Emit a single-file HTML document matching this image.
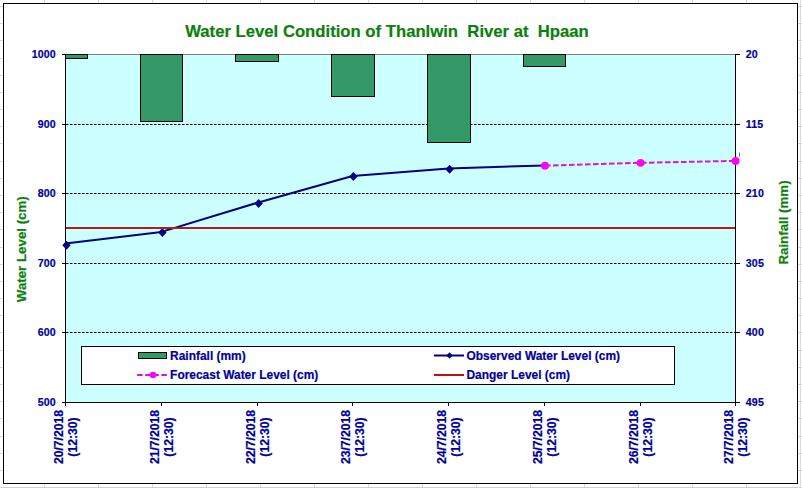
<!DOCTYPE html><html><head><meta charset="utf-8"><title>Water Level Condition of Thanlwin River at Hpaan</title>
<style>html,body{margin:0;padding:0;background:#fff;}svg{display:block;}text{font-family:"Liberation Sans", sans-serif;font-weight:bold;}text.b{stroke:#00009c;stroke-width:0.2px;}text.g{stroke:#0c800c;stroke-width:0.2px;}</style></head><body>
<svg width="802" height="488" viewBox="0 0 802 488">
<rect x="0" y="0" width="802" height="488" fill="#fff"/>
<line x1="44.5" y1="0" x2="44.5" y2="3" stroke="#d8d8d8" stroke-width="1"/>
<line x1="44.5" y1="484" x2="44.5" y2="488" stroke="#d8d8d8" stroke-width="1"/>
<line x1="98.5" y1="0" x2="98.5" y2="3" stroke="#d8d8d8" stroke-width="1"/>
<line x1="98.5" y1="484" x2="98.5" y2="488" stroke="#d8d8d8" stroke-width="1"/>
<line x1="152.5" y1="0" x2="152.5" y2="3" stroke="#d8d8d8" stroke-width="1"/>
<line x1="152.5" y1="484" x2="152.5" y2="488" stroke="#d8d8d8" stroke-width="1"/>
<line x1="206.5" y1="0" x2="206.5" y2="3" stroke="#d8d8d8" stroke-width="1"/>
<line x1="206.5" y1="484" x2="206.5" y2="488" stroke="#d8d8d8" stroke-width="1"/>
<line x1="260.5" y1="0" x2="260.5" y2="3" stroke="#d8d8d8" stroke-width="1"/>
<line x1="260.5" y1="484" x2="260.5" y2="488" stroke="#d8d8d8" stroke-width="1"/>
<line x1="314.5" y1="0" x2="314.5" y2="3" stroke="#d8d8d8" stroke-width="1"/>
<line x1="314.5" y1="484" x2="314.5" y2="488" stroke="#d8d8d8" stroke-width="1"/>
<line x1="368.5" y1="0" x2="368.5" y2="3" stroke="#d8d8d8" stroke-width="1"/>
<line x1="368.5" y1="484" x2="368.5" y2="488" stroke="#d8d8d8" stroke-width="1"/>
<line x1="422.5" y1="0" x2="422.5" y2="3" stroke="#d8d8d8" stroke-width="1"/>
<line x1="422.5" y1="484" x2="422.5" y2="488" stroke="#d8d8d8" stroke-width="1"/>
<line x1="476.5" y1="0" x2="476.5" y2="3" stroke="#d8d8d8" stroke-width="1"/>
<line x1="476.5" y1="484" x2="476.5" y2="488" stroke="#d8d8d8" stroke-width="1"/>
<line x1="530.5" y1="0" x2="530.5" y2="3" stroke="#d8d8d8" stroke-width="1"/>
<line x1="530.5" y1="484" x2="530.5" y2="488" stroke="#d8d8d8" stroke-width="1"/>
<line x1="584.5" y1="0" x2="584.5" y2="3" stroke="#d8d8d8" stroke-width="1"/>
<line x1="584.5" y1="484" x2="584.5" y2="488" stroke="#d8d8d8" stroke-width="1"/>
<line x1="638.5" y1="0" x2="638.5" y2="3" stroke="#d8d8d8" stroke-width="1"/>
<line x1="638.5" y1="484" x2="638.5" y2="488" stroke="#d8d8d8" stroke-width="1"/>
<line x1="692.5" y1="0" x2="692.5" y2="3" stroke="#d8d8d8" stroke-width="1"/>
<line x1="692.5" y1="484" x2="692.5" y2="488" stroke="#d8d8d8" stroke-width="1"/>
<line x1="746.5" y1="0" x2="746.5" y2="3" stroke="#d8d8d8" stroke-width="1"/>
<line x1="746.5" y1="484" x2="746.5" y2="488" stroke="#d8d8d8" stroke-width="1"/>
<line x1="0" y1="487.5" x2="802" y2="487.5" stroke="#d0d0d0" stroke-width="1"/>
<line x1="800.5" y1="0" x2="800.5" y2="488" stroke="#d8d8d8" stroke-width="1"/>
<line x1="0" y1="6.5" x2="3" y2="6.5" stroke="#d8d8d8" stroke-width="1"/>
<line x1="798" y1="6.5" x2="802" y2="6.5" stroke="#d8d8d8" stroke-width="1"/>
<line x1="0" y1="23.5" x2="3" y2="23.5" stroke="#d8d8d8" stroke-width="1"/>
<line x1="798" y1="23.5" x2="802" y2="23.5" stroke="#d8d8d8" stroke-width="1"/>
<line x1="0" y1="40.5" x2="3" y2="40.5" stroke="#d8d8d8" stroke-width="1"/>
<line x1="798" y1="40.5" x2="802" y2="40.5" stroke="#d8d8d8" stroke-width="1"/>
<line x1="0" y1="58.5" x2="3" y2="58.5" stroke="#d8d8d8" stroke-width="1"/>
<line x1="798" y1="58.5" x2="802" y2="58.5" stroke="#d8d8d8" stroke-width="1"/>
<line x1="0" y1="75.5" x2="3" y2="75.5" stroke="#d8d8d8" stroke-width="1"/>
<line x1="798" y1="75.5" x2="802" y2="75.5" stroke="#d8d8d8" stroke-width="1"/>
<line x1="0" y1="92.5" x2="3" y2="92.5" stroke="#d8d8d8" stroke-width="1"/>
<line x1="798" y1="92.5" x2="802" y2="92.5" stroke="#d8d8d8" stroke-width="1"/>
<line x1="0" y1="109.5" x2="3" y2="109.5" stroke="#d8d8d8" stroke-width="1"/>
<line x1="798" y1="109.5" x2="802" y2="109.5" stroke="#d8d8d8" stroke-width="1"/>
<line x1="0" y1="126.5" x2="3" y2="126.5" stroke="#d8d8d8" stroke-width="1"/>
<line x1="798" y1="126.5" x2="802" y2="126.5" stroke="#d8d8d8" stroke-width="1"/>
<line x1="0" y1="143.5" x2="3" y2="143.5" stroke="#d8d8d8" stroke-width="1"/>
<line x1="798" y1="143.5" x2="802" y2="143.5" stroke="#d8d8d8" stroke-width="1"/>
<line x1="0" y1="161.5" x2="3" y2="161.5" stroke="#d8d8d8" stroke-width="1"/>
<line x1="798" y1="161.5" x2="802" y2="161.5" stroke="#d8d8d8" stroke-width="1"/>
<line x1="0" y1="178.5" x2="3" y2="178.5" stroke="#d8d8d8" stroke-width="1"/>
<line x1="798" y1="178.5" x2="802" y2="178.5" stroke="#d8d8d8" stroke-width="1"/>
<line x1="0" y1="195.5" x2="3" y2="195.5" stroke="#d8d8d8" stroke-width="1"/>
<line x1="798" y1="195.5" x2="802" y2="195.5" stroke="#d8d8d8" stroke-width="1"/>
<line x1="0" y1="212.5" x2="3" y2="212.5" stroke="#d8d8d8" stroke-width="1"/>
<line x1="798" y1="212.5" x2="802" y2="212.5" stroke="#d8d8d8" stroke-width="1"/>
<line x1="0" y1="229.5" x2="3" y2="229.5" stroke="#d8d8d8" stroke-width="1"/>
<line x1="798" y1="229.5" x2="802" y2="229.5" stroke="#d8d8d8" stroke-width="1"/>
<line x1="0" y1="247.5" x2="3" y2="247.5" stroke="#d8d8d8" stroke-width="1"/>
<line x1="798" y1="247.5" x2="802" y2="247.5" stroke="#d8d8d8" stroke-width="1"/>
<line x1="0" y1="264.5" x2="3" y2="264.5" stroke="#d8d8d8" stroke-width="1"/>
<line x1="798" y1="264.5" x2="802" y2="264.5" stroke="#d8d8d8" stroke-width="1"/>
<line x1="0" y1="281.5" x2="3" y2="281.5" stroke="#d8d8d8" stroke-width="1"/>
<line x1="798" y1="281.5" x2="802" y2="281.5" stroke="#d8d8d8" stroke-width="1"/>
<line x1="0" y1="298.5" x2="3" y2="298.5" stroke="#d8d8d8" stroke-width="1"/>
<line x1="798" y1="298.5" x2="802" y2="298.5" stroke="#d8d8d8" stroke-width="1"/>
<line x1="0" y1="315.5" x2="3" y2="315.5" stroke="#d8d8d8" stroke-width="1"/>
<line x1="798" y1="315.5" x2="802" y2="315.5" stroke="#d8d8d8" stroke-width="1"/>
<line x1="0" y1="332.5" x2="3" y2="332.5" stroke="#d8d8d8" stroke-width="1"/>
<line x1="798" y1="332.5" x2="802" y2="332.5" stroke="#d8d8d8" stroke-width="1"/>
<line x1="0" y1="350.5" x2="3" y2="350.5" stroke="#d8d8d8" stroke-width="1"/>
<line x1="798" y1="350.5" x2="802" y2="350.5" stroke="#d8d8d8" stroke-width="1"/>
<line x1="0" y1="367.5" x2="3" y2="367.5" stroke="#d8d8d8" stroke-width="1"/>
<line x1="798" y1="367.5" x2="802" y2="367.5" stroke="#d8d8d8" stroke-width="1"/>
<line x1="0" y1="384.5" x2="3" y2="384.5" stroke="#d8d8d8" stroke-width="1"/>
<line x1="798" y1="384.5" x2="802" y2="384.5" stroke="#d8d8d8" stroke-width="1"/>
<line x1="0" y1="401.5" x2="3" y2="401.5" stroke="#d8d8d8" stroke-width="1"/>
<line x1="798" y1="401.5" x2="802" y2="401.5" stroke="#d8d8d8" stroke-width="1"/>
<line x1="0" y1="418.5" x2="3" y2="418.5" stroke="#d8d8d8" stroke-width="1"/>
<line x1="798" y1="418.5" x2="802" y2="418.5" stroke="#d8d8d8" stroke-width="1"/>
<line x1="0" y1="436.5" x2="3" y2="436.5" stroke="#d8d8d8" stroke-width="1"/>
<line x1="798" y1="436.5" x2="802" y2="436.5" stroke="#d8d8d8" stroke-width="1"/>
<line x1="0" y1="453.5" x2="3" y2="453.5" stroke="#d8d8d8" stroke-width="1"/>
<line x1="798" y1="453.5" x2="802" y2="453.5" stroke="#d8d8d8" stroke-width="1"/>
<line x1="0" y1="470.5" x2="3" y2="470.5" stroke="#d8d8d8" stroke-width="1"/>
<line x1="798" y1="470.5" x2="802" y2="470.5" stroke="#d8d8d8" stroke-width="1"/>
<line x1="0" y1="487.5" x2="3" y2="487.5" stroke="#d8d8d8" stroke-width="1"/>
<line x1="798" y1="487.5" x2="802" y2="487.5" stroke="#d8d8d8" stroke-width="1"/>
<rect x="3.5" y="3.5" width="794" height="480" fill="#fff" stroke="#000" stroke-width="1"/>
<rect x="65" y="54" width="670" height="348" fill="#ccffff"/>
<line x1="65" y1="54.5" x2="735" y2="54.5" stroke="#808080" stroke-width="1"/>
<line x1="66" y1="124.5" x2="735" y2="124.5" stroke="#000" stroke-width="1" stroke-dasharray="2.5 1.5"/>
<line x1="66" y1="193.5" x2="735" y2="193.5" stroke="#000" stroke-width="1" stroke-dasharray="2.5 1.5"/>
<line x1="66" y1="263.5" x2="735" y2="263.5" stroke="#000" stroke-width="1" stroke-dasharray="2.5 1.5"/>
<line x1="66" y1="332.5" x2="735" y2="332.5" stroke="#000" stroke-width="1" stroke-dasharray="2.5 1.5"/>
<rect x="65.5" y="54.5" width="22" height="4" fill="#339966" stroke="#000" stroke-width="1"/>
<rect x="140.5" y="54.5" width="42" height="67" fill="#339966" stroke="#000" stroke-width="1"/>
<rect x="235.5" y="54.5" width="43" height="7" fill="#339966" stroke="#000" stroke-width="1"/>
<rect x="331.5" y="54.5" width="43" height="42" fill="#339966" stroke="#000" stroke-width="1"/>
<rect x="427.5" y="54.5" width="43" height="88" fill="#339966" stroke="#000" stroke-width="1"/>
<rect x="523.5" y="54.5" width="42" height="12" fill="#339966" stroke="#000" stroke-width="1"/>
<line x1="65.5" y1="54" x2="65.5" y2="403" stroke="#000" stroke-width="1"/>
<line x1="735.5" y1="54" x2="735.5" y2="406" stroke="#000" stroke-width="1"/>
<line x1="65" y1="402.5" x2="736" y2="402.5" stroke="#000" stroke-width="1"/>
<line x1="62" y1="54.5" x2="65" y2="54.5" stroke="#000" stroke-width="1"/>
<line x1="736" y1="54.5" x2="740" y2="54.5" stroke="#000" stroke-width="1"/>
<line x1="62" y1="124.5" x2="65" y2="124.5" stroke="#000" stroke-width="1"/>
<line x1="736" y1="124.5" x2="740" y2="124.5" stroke="#000" stroke-width="1"/>
<line x1="62" y1="193.5" x2="65" y2="193.5" stroke="#000" stroke-width="1"/>
<line x1="736" y1="193.5" x2="740" y2="193.5" stroke="#000" stroke-width="1"/>
<line x1="62" y1="263.5" x2="65" y2="263.5" stroke="#000" stroke-width="1"/>
<line x1="736" y1="263.5" x2="740" y2="263.5" stroke="#000" stroke-width="1"/>
<line x1="62" y1="332.5" x2="65" y2="332.5" stroke="#000" stroke-width="1"/>
<line x1="736" y1="332.5" x2="740" y2="332.5" stroke="#000" stroke-width="1"/>
<line x1="62" y1="402.5" x2="65" y2="402.5" stroke="#000" stroke-width="1"/>
<line x1="736" y1="402.5" x2="740" y2="402.5" stroke="#000" stroke-width="1"/>
<line x1="65.5" y1="403" x2="65.5" y2="406" stroke="#000" stroke-width="1"/>
<line x1="161.5" y1="403" x2="161.5" y2="406" stroke="#000" stroke-width="1"/>
<line x1="257.5" y1="403" x2="257.5" y2="406" stroke="#000" stroke-width="1"/>
<line x1="352.5" y1="403" x2="352.5" y2="406" stroke="#000" stroke-width="1"/>
<line x1="448.5" y1="403" x2="448.5" y2="406" stroke="#000" stroke-width="1"/>
<line x1="544.5" y1="403" x2="544.5" y2="406" stroke="#000" stroke-width="1"/>
<line x1="640.5" y1="403" x2="640.5" y2="406" stroke="#000" stroke-width="1"/>
<line x1="735.5" y1="403" x2="735.5" y2="406" stroke="#000" stroke-width="1"/>
<polyline points="65.5,243.4 161.5,231.9 257.5,202.7 352.5,176.0 448.5,168.4 544.5,165.5" fill="none" stroke="#000080" stroke-width="2" stroke-linejoin="round"/>
<path d="M66.5 240.8L70.7 245.3L66.5 249.8L62.3 245.3Z" fill="#000080"/>
<path d="M162.4 228.0L166.6 232.5L162.4 237.0L158.2 232.5Z" fill="#000080"/>
<path d="M258.6 198.9L262.8 203.4L258.6 207.9L254.4 203.4Z" fill="#000080"/>
<path d="M353.4 171.9L357.6 176.4L353.4 180.9L349.2 176.4Z" fill="#000080"/>
<path d="M449.6 164.8L453.8 169.3L449.6 173.8L445.4 169.3Z" fill="#000080"/>
<line x1="66" y1="228" x2="735" y2="228" stroke="#b41c1c" stroke-width="2"/>
<polyline points="545.0,165.7 640.6,162.8 735.6,160.9" fill="none" stroke="#e010e0" stroke-width="2" stroke-dasharray="5.6 2.4"/>
<circle cx="545.0" cy="165.7" r="3.9" fill="#ff00ff"/>
<circle cx="640.6" cy="162.8" r="3.9" fill="#ff00ff"/>
<circle cx="735.6" cy="160.9" r="3.9" fill="#ff00ff"/>
<line x1="739.5" y1="152.5" x2="739.5" y2="156.5" stroke="#707080" stroke-width="1"/>
<rect x="81.5" y="346.5" width="593" height="38" fill="#fff" stroke="#000" stroke-width="1"/>
<rect x="138.5" y="352.5" width="28" height="6" fill="#339966" stroke="#000" stroke-width="1"/>
<line x1="137.1" y1="375" x2="167" y2="375" stroke="#e010e0" stroke-width="2" stroke-dasharray="5.5 2.6"/>
<circle cx="153" cy="375" r="3.3" fill="#ff00ff"/>
<line x1="434" y1="355.5" x2="464" y2="355.5" stroke="#000080" stroke-width="2"/>
<path d="M449.5 352.2L452.5 355.5L449.5 358.8L446.5 355.5Z" fill="#000080"/>
<line x1="434" y1="375" x2="464" y2="375" stroke="#c01010" stroke-width="2"/>
<text x="170.1" y="360" font-size="11.95" fill="#00009c" class="b">Rainfall (mm)</text>
<text x="170.1" y="378.8" font-size="11.95" fill="#00009c" class="b">Forecast Water Level (cm)</text>
<text x="466.5" y="360" font-size="11.95" fill="#00009c" class="b">Observed Water Level (cm)</text>
<text x="466.5" y="378.8" font-size="11.95" fill="#00009c" class="b">Danger Level (cm)</text>
<text x="185.2" y="36.7" font-size="16.7" fill="#0c800c" class="g" xml:space="preserve">Water Level Condition of Thanlwin  River at  Hpaan</text>
<text x="55.8" y="58.3" font-size="10.6" fill="#00009c" class="b" text-anchor="end" letter-spacing="0.15">1000</text>
<text x="55.8" y="128.3" font-size="10.6" fill="#00009c" class="b" text-anchor="end" letter-spacing="0.15">900</text>
<text x="55.8" y="197.3" font-size="10.6" fill="#00009c" class="b" text-anchor="end" letter-spacing="0.15">800</text>
<text x="55.8" y="267.3" font-size="10.6" fill="#00009c" class="b" text-anchor="end" letter-spacing="0.15">700</text>
<text x="55.8" y="336.3" font-size="10.6" fill="#00009c" class="b" text-anchor="end" letter-spacing="0.15">600</text>
<text x="55.8" y="406.3" font-size="10.6" fill="#00009c" class="b" text-anchor="end" letter-spacing="0.15">500</text>
<text x="745.8" y="58.3" font-size="10.6" fill="#00009c" class="b" letter-spacing="0.15">20</text>
<text x="745.8" y="128.3" font-size="10.6" fill="#00009c" class="b" letter-spacing="0.15">115</text>
<text x="745.8" y="197.3" font-size="10.6" fill="#00009c" class="b" letter-spacing="0.15">210</text>
<text x="745.8" y="267.3" font-size="10.6" fill="#00009c" class="b" letter-spacing="0.15">305</text>
<text x="745.8" y="336.3" font-size="10.6" fill="#00009c" class="b" letter-spacing="0.15">400</text>
<text x="745.8" y="406.3" font-size="10.6" fill="#00009c" class="b" letter-spacing="0.15">495</text>
<text transform="translate(26.2,249.2) rotate(-90)" font-size="13.3" fill="#0c800c" class="g" text-anchor="middle">Water Level (cm)</text>
<text transform="translate(788,222.5) rotate(-90)" font-size="13.3" fill="#0c800c" class="g" text-anchor="middle">Rainfall (mm)</text>
<text transform="translate(63.0,437) rotate(-90)" font-size="12.2" fill="#00009c" class="b" text-anchor="middle">20/7/2018</text>
<text transform="translate(77.0,437) rotate(-90)" font-size="12.2" fill="#00009c" class="b" text-anchor="middle">(12:30)</text>
<text transform="translate(159.0,437) rotate(-90)" font-size="12.2" fill="#00009c" class="b" text-anchor="middle">21/7/2018</text>
<text transform="translate(173.0,437) rotate(-90)" font-size="12.2" fill="#00009c" class="b" text-anchor="middle">(12:30)</text>
<text transform="translate(255.0,437) rotate(-90)" font-size="12.2" fill="#00009c" class="b" text-anchor="middle">22/7/2018</text>
<text transform="translate(269.0,437) rotate(-90)" font-size="12.2" fill="#00009c" class="b" text-anchor="middle">(12:30)</text>
<text transform="translate(350.0,437) rotate(-90)" font-size="12.2" fill="#00009c" class="b" text-anchor="middle">23/7/2018</text>
<text transform="translate(364.0,437) rotate(-90)" font-size="12.2" fill="#00009c" class="b" text-anchor="middle">(12:30)</text>
<text transform="translate(446.0,437) rotate(-90)" font-size="12.2" fill="#00009c" class="b" text-anchor="middle">24/7/2018</text>
<text transform="translate(460.0,437) rotate(-90)" font-size="12.2" fill="#00009c" class="b" text-anchor="middle">(12:30)</text>
<text transform="translate(542.0,437) rotate(-90)" font-size="12.2" fill="#00009c" class="b" text-anchor="middle">25/7/2018</text>
<text transform="translate(556.0,437) rotate(-90)" font-size="12.2" fill="#00009c" class="b" text-anchor="middle">(12:30)</text>
<text transform="translate(638.0,437) rotate(-90)" font-size="12.2" fill="#00009c" class="b" text-anchor="middle">26/7/2018</text>
<text transform="translate(652.0,437) rotate(-90)" font-size="12.2" fill="#00009c" class="b" text-anchor="middle">(12:30)</text>
<text transform="translate(733.0,437) rotate(-90)" font-size="12.2" fill="#00009c" class="b" text-anchor="middle">27/7/2018</text>
<text transform="translate(747.0,437) rotate(-90)" font-size="12.2" fill="#00009c" class="b" text-anchor="middle">(12:30)</text>
</svg></body></html>
